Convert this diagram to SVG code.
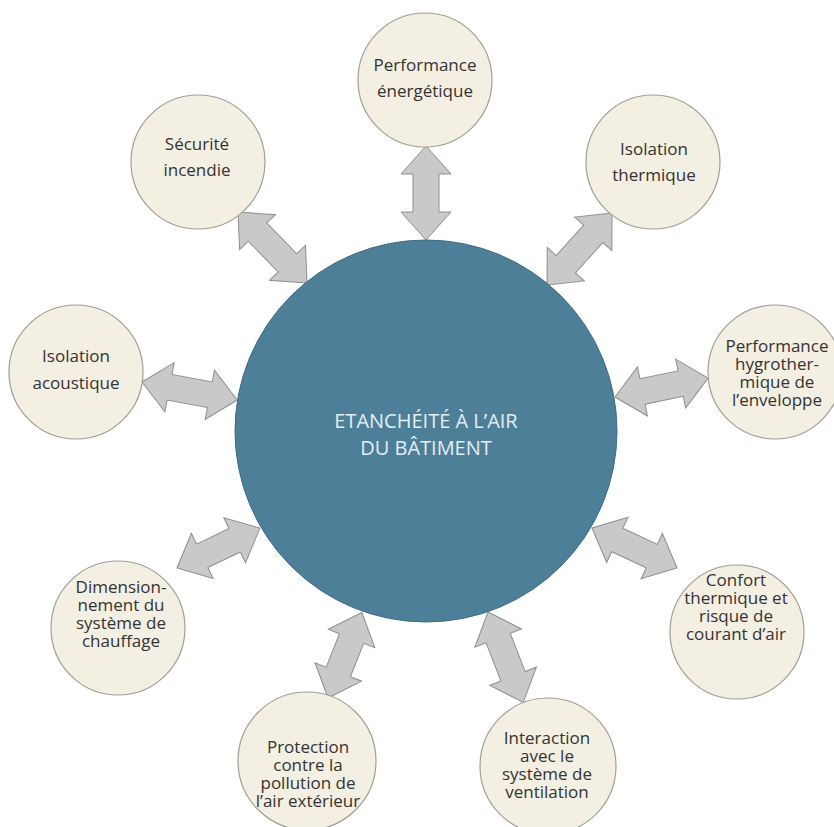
<svg xmlns="http://www.w3.org/2000/svg" width="834" height="827" viewBox="0 0 834 827">
  <style>
    .hub { fill: #4e7f99; stroke: #3e6b83; stroke-width: 1; }
    .hub-label { font-family: "Open Sans", "Noto Sans", sans-serif; font-size: 20px; fill: #e3eef3; text-anchor: middle; }
    .topic { fill: #f3efe2; stroke: #a19e96; stroke-width: 1.2; }
    .topic-label { font-family: "Open Sans", "Noto Sans", sans-serif; font-size: 17px; fill: #333333; text-anchor: middle; }
    .arr { fill: #c9c9c9; stroke: #8e8e8e; stroke-width: 1; stroke-linejoin: miter; }
  </style>
  <rect width="834" height="827" fill="#ffffff"/>

  <!-- double-headed block arrows, each drawn along its local x axis from tip to tip -->
  <g id="connectors">
    <path class="arr" transform="translate(426,146) rotate(90)" d="M0,0 L28,-25 L28,-13 L66,-13 L66,-25 L94,0 L66,25 L66,13 L28,13 L28,25 Z"/>
    <path class="arr" transform="translate(238,212) rotate(45.8)" d="M0,0 L28,-25 L28,-13 L71,-13 L71,-25 L99,0 L71,25 L71,13 L28,13 L28,25 Z"/>
    <path class="arr" transform="translate(547,285) rotate(-47.9)" d="M0,0 L28,-25 L28,-13 L69,-13 L69,-25 L97,0 L69,25 L69,13 L28,13 L28,25 Z"/>
    <path class="arr" transform="translate(142,382) rotate(10.7)" d="M0,0 L28,-25 L28,-13 L69,-13 L69,-25 L97,0 L69,25 L69,13 L28,13 L28,25 Z"/>
    <path class="arr" transform="translate(615,397) rotate(-11.5)" d="M0,0 L28,-25 L28,-13 L67,-13 L67,-25 L95,0 L67,25 L67,13 L28,13 L28,25 Z"/>
    <path class="arr" transform="translate(177,568) rotate(-25.7)" d="M0,0 L28,-25 L28,-13 L64,-13 L64,-25 L92,0 L64,25 L64,13 L28,13 L28,25 Z"/>
    <path class="arr" transform="translate(592,528) rotate(25.2)" d="M0,0 L28,-25 L28,-13 L66,-13 L66,-25 L94,0 L66,25 L66,13 L28,13 L28,25 Z"/>
    <path class="arr" transform="translate(328,698) rotate(-68.4)" d="M0,0 L28,-25 L28,-13 L64,-13 L64,-25 L92,0 L64,25 L64,13 L28,13 L28,25 Z"/>
    <path class="arr" transform="translate(488,612) rotate(68.7)" d="M0,0 L28,-25 L28,-13 L69,-13 L69,-25 L97,0 L69,25 L69,13 L28,13 L28,25 Z"/>
  </g>

  <!-- central node -->
  <g id="hub">
    <circle class="hub" cx="426" cy="431" r="191"/>
    <text class="hub-label"><tspan x="426" y="428">ETANCHÉITÉ À L’AIR</tspan><tspan x="426" y="455">DU BÂTIMENT</tspan></text>
  </g>

  <g id="performance-energetique">
    <circle class="topic" cx="425" cy="80" r="67"/>
    <text class="topic-label"><tspan x="425" y="71">Performance</tspan><tspan x="425" y="97">énergétique</tspan></text>
  </g>

  <g id="securite-incendie">
    <circle class="topic" cx="198" cy="162" r="67"/>
    <text class="topic-label"><tspan x="197" y="150">Sécurité</tspan><tspan x="197" y="176">incendie</tspan></text>
  </g>

  <g id="isolation-thermique">
    <circle class="topic" cx="653" cy="162" r="67"/>
    <text class="topic-label"><tspan x="654" y="155">Isolation</tspan><tspan x="654" y="181">thermique</tspan></text>
  </g>

  <g id="isolation-acoustique">
    <circle class="topic" cx="76" cy="372" r="67"/>
    <text class="topic-label"><tspan x="76" y="362">Isolation</tspan><tspan x="76" y="389">acoustique</tspan></text>
  </g>

  <g id="performance-hygrothermique">
    <circle class="topic" cx="775" cy="372" r="67"/>
    <text class="topic-label"><tspan x="777" y="352">Performance</tspan><tspan x="777" y="370">hygrother-</tspan><tspan x="777" y="388">mique de</tspan><tspan x="777" y="406">l’enveloppe</tspan></text>
  </g>

  <g id="dimensionnement-chauffage">
    <circle class="topic" cx="118" cy="628" r="67"/>
    <text class="topic-label"><tspan x="121" y="593">Dimension-</tspan><tspan x="121" y="611">nement du</tspan><tspan x="121" y="629">système de</tspan><tspan x="121" y="647">chauffage</tspan></text>
  </g>

  <g id="confort-thermique">
    <circle class="topic" cx="737" cy="632" r="67"/>
    <text class="topic-label"><tspan x="736" y="586">Confort</tspan><tspan x="736" y="604">thermique et</tspan><tspan x="736" y="622">risque de</tspan><tspan x="736" y="640">courant d’air</tspan></text>
  </g>

  <g id="protection-pollution">
    <circle class="topic" cx="307" cy="761" r="69"/>
    <text class="topic-label"><tspan x="308" y="753">Protection</tspan><tspan x="308" y="771">contre la</tspan><tspan x="308" y="789">pollution de</tspan><tspan x="308" y="807">l’air extérieur</tspan></text>
  </g>

  <g id="interaction-ventilation">
    <circle class="topic" cx="548" cy="766" r="68"/>
    <text class="topic-label"><tspan x="547" y="744">Interaction</tspan><tspan x="547" y="762">avec le</tspan><tspan x="547" y="780">système de</tspan><tspan x="547" y="798">ventilation</tspan></text>
  </g>
</svg>
